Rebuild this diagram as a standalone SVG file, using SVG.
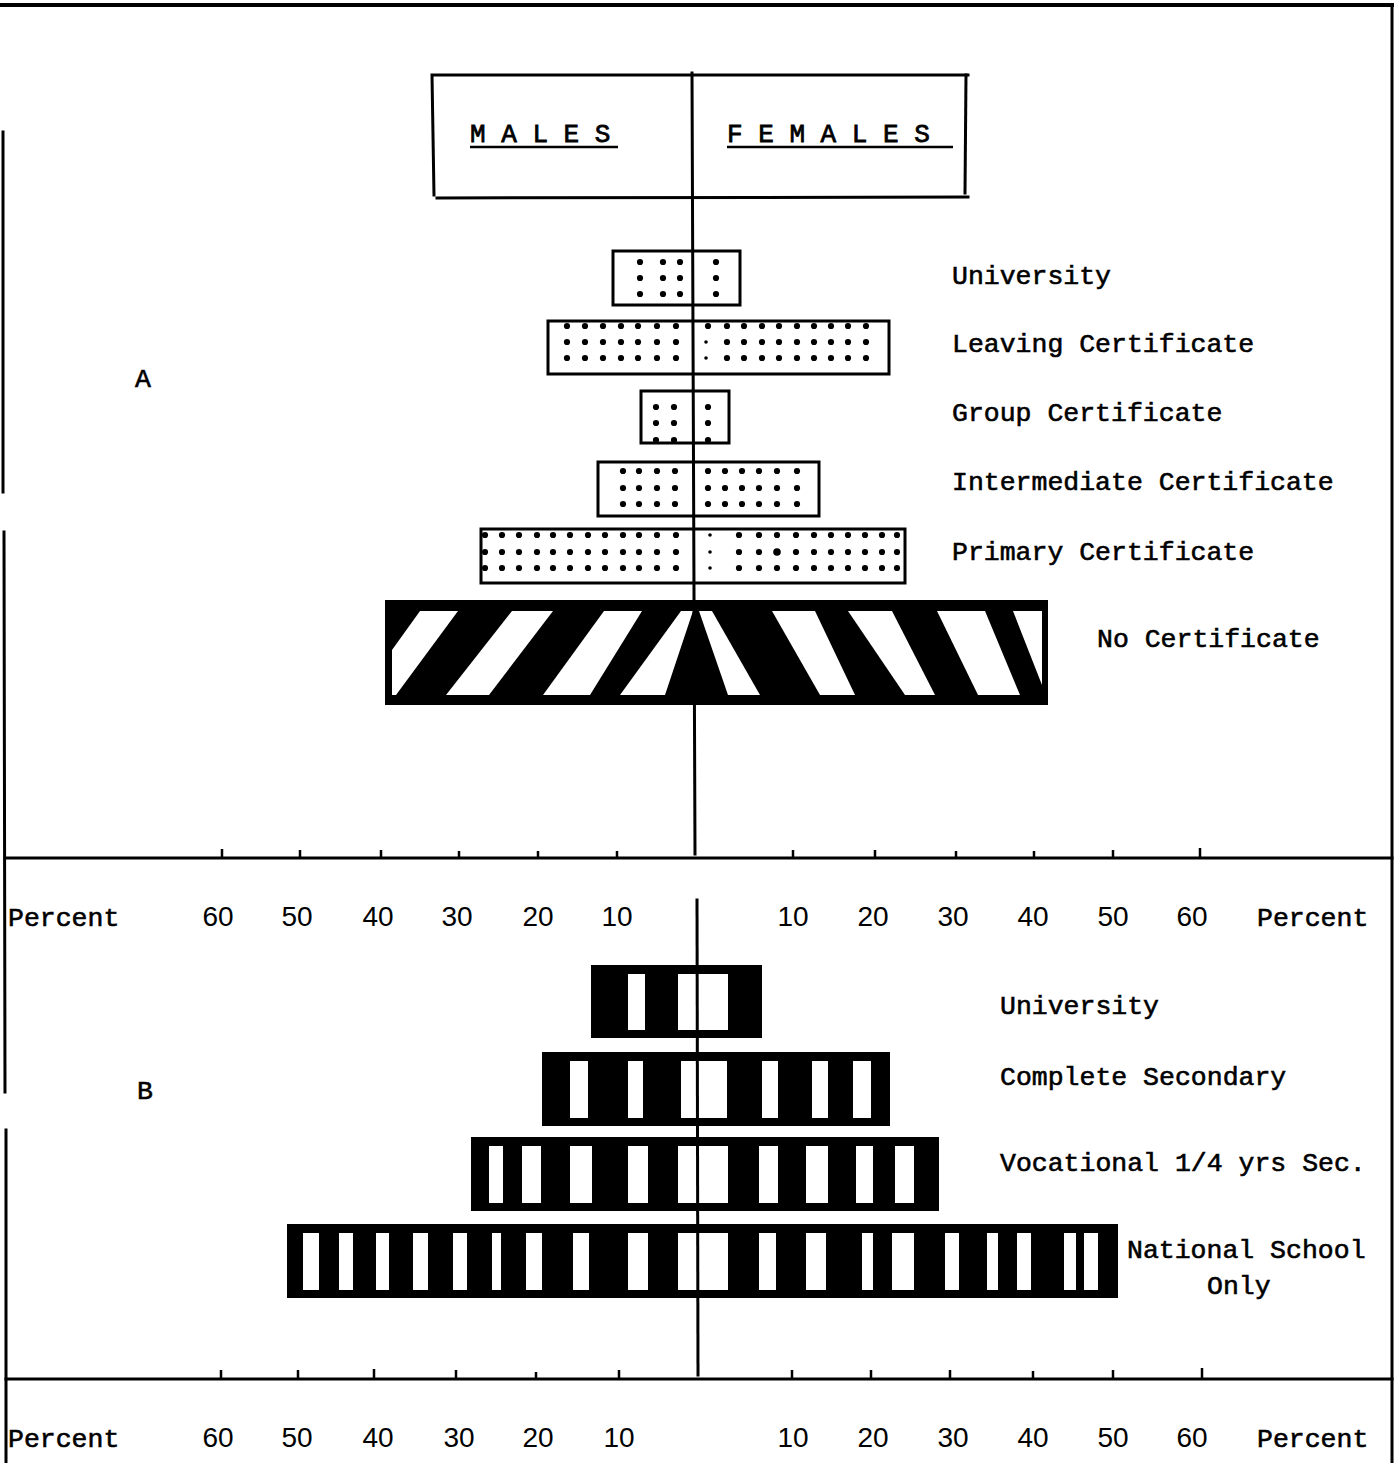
<svg xmlns="http://www.w3.org/2000/svg" width="1396" height="1463" viewBox="0 0 1396 1463">
<style>
.t{font-family:"Liberation Mono","DejaVu Sans Mono",monospace;font-size:26.5px;fill:#000;stroke:#000;stroke-width:0.6}
.h{font-family:"Liberation Mono","DejaVu Sans Mono",monospace;font-size:26px;fill:#000;stroke:#000;stroke-width:0.8}
.n{font-family:"Liberation Sans",Arial,sans-serif;font-size:28px;fill:#000;text-anchor:middle}
.ln{stroke:#000;stroke-width:3;fill:none;stroke-linecap:square}
.tk{stroke:#000;stroke-width:2.5}
.bar{fill:#fff;stroke:#000;stroke-width:3}
.blk{fill:#000;stroke:#000;stroke-width:2}
.w{fill:#fff}
.d circle{fill:#000}
</style>
<rect width="1396" height="1463" fill="#fff"/>

<g id="frame">
<line class="ln" x1="0" y1="5" x2="1392" y2="5" style="stroke-width:4"/>
<line class="ln" x1="1392" y1="5" x2="1392" y2="1463"/>
<line class="ln" x1="3" y1="132" x2="3" y2="492"/>
<line class="ln" x1="4" y1="532" x2="5" y2="1092"/>
<line class="ln" x1="6" y1="1130" x2="6" y2="1463"/>
</g>

<g id="header">
<polyline class="ln" points="434,195 432,75 968,75"/>
<line class="ln" x1="966" y1="75" x2="965" y2="193"/>
<line class="ln" x1="437" y1="198" x2="968" y2="197"/>
<text class="h" x="470" y="142">M A L E S</text>
<text class="h" x="727" y="142">F E M A L E S</text>
<line x1="470" y1="147" x2="618" y2="147" stroke="#000" stroke-width="2.5"/>
<line x1="727" y1="147" x2="953" y2="147" stroke="#000" stroke-width="2.5"/>
</g>

<g id="labelA"><text class="t" x="135" y="387">A</text></g>
<g id="labelB"><text class="t" x="137" y="1099">B</text></g>

<g id="a-university">
<rect class="bar" x="613" y="251" width="127" height="54"/>
<g class="d"><circle cx="640" cy="262" r="3.1"/><circle cx="663" cy="262" r="3.1"/><circle cx="680" cy="262" r="3.1"/><circle cx="716" cy="262" r="3.1"/>
<circle cx="640" cy="278" r="3.1"/><circle cx="663" cy="278" r="3.1"/><circle cx="680" cy="278" r="3.1"/><circle cx="716" cy="278" r="3.1"/>
<circle cx="640" cy="294" r="3.1"/><circle cx="663" cy="294" r="3.1"/><circle cx="680" cy="294" r="3.1"/><circle cx="716" cy="294" r="3.1"/></g>
<text class="t" x="952" y="284">University</text>
</g>

<g id="a-leaving">
<rect class="bar" x="548" y="321" width="341" height="53"/>
<g class="d">
<circle cx="567" cy="326" r="3.1"/><circle cx="585" cy="326" r="3.1"/><circle cx="603" cy="326" r="3.1"/><circle cx="621" cy="326" r="3.1"/><circle cx="638" cy="326" r="3.1"/><circle cx="657" cy="326" r="3.1"/><circle cx="676" cy="326" r="3.1"/>
<circle cx="708" cy="326" r="3.1"/><circle cx="727" cy="326" r="3.1"/><circle cx="744" cy="326" r="3.1"/><circle cx="762" cy="326" r="3.1"/><circle cx="779" cy="326" r="3.1"/><circle cx="797" cy="326" r="3.1"/><circle cx="814" cy="326" r="3.1"/><circle cx="831" cy="326" r="3.1"/><circle cx="848" cy="326" r="3.1"/><circle cx="866" cy="326" r="3.1"/>
<circle cx="567" cy="342" r="3.1"/><circle cx="585" cy="342" r="3.1"/><circle cx="603" cy="342" r="3.1"/><circle cx="621" cy="342" r="3.1"/><circle cx="638" cy="342" r="3.1"/><circle cx="657" cy="342" r="3.1"/><circle cx="676" cy="342" r="3.1"/>
<circle cx="706" cy="342" r="1.8"/><circle cx="727" cy="342" r="3.1"/><circle cx="744" cy="342" r="3.1"/><circle cx="762" cy="342" r="3.1"/><circle cx="779" cy="342" r="3.1"/><circle cx="797" cy="342" r="3.1"/><circle cx="814" cy="342" r="3.1"/><circle cx="831" cy="342" r="3.1"/><circle cx="848" cy="342" r="3.1"/><circle cx="866" cy="342" r="3.1"/>
<circle cx="567" cy="358" r="3.1"/><circle cx="585" cy="358" r="3.1"/><circle cx="603" cy="358" r="3.1"/><circle cx="621" cy="358" r="3.1"/><circle cx="638" cy="358" r="3.1"/><circle cx="657" cy="358" r="3.1"/><circle cx="676" cy="358" r="3.1"/>
<circle cx="706" cy="358" r="1.8"/><circle cx="727" cy="358" r="3.1"/><circle cx="744" cy="358" r="3.1"/><circle cx="762" cy="358" r="3.1"/><circle cx="779" cy="358" r="3.1"/><circle cx="797" cy="358" r="3.1"/><circle cx="814" cy="358" r="3.1"/><circle cx="831" cy="358" r="3.1"/><circle cx="848" cy="358" r="3.1"/><circle cx="866" cy="358" r="3.1"/>
</g>
<text class="t" x="952" y="352">Leaving Certificate</text>
</g>

<g id="a-group">
<rect class="bar" x="641" y="391" width="88" height="52"/>
<g class="d"><circle cx="656" cy="407" r="3.1"/><circle cx="674" cy="407" r="3.1"/><circle cx="708" cy="407" r="3.1"/>
<circle cx="656" cy="423" r="3.1"/><circle cx="674" cy="423" r="3.1"/><circle cx="708" cy="423" r="3.1"/>
<circle cx="656" cy="440" r="3.1"/><circle cx="674" cy="440" r="3.1"/><circle cx="708" cy="440" r="3.1"/></g>
<text class="t" x="952" y="421">Group Certificate</text>
</g>

<g id="a-intermediate">
<rect class="bar" x="598" y="462" width="221" height="54"/>
<g class="d">
<circle cx="623" cy="471" r="3.1"/><circle cx="639" cy="471" r="3.1"/><circle cx="657" cy="471" r="3.1"/><circle cx="675" cy="471" r="3.1"/><circle cx="708" cy="471" r="3.1"/><circle cx="725" cy="471" r="3.1"/><circle cx="742" cy="471" r="3.1"/><circle cx="759" cy="471" r="3.1"/><circle cx="777" cy="471" r="3.1"/><circle cx="797" cy="471" r="3.1"/>
<circle cx="623" cy="488" r="3.1"/><circle cx="639" cy="488" r="3.1"/><circle cx="657" cy="488" r="3.1"/><circle cx="675" cy="488" r="3.1"/><circle cx="708" cy="488" r="3.1"/><circle cx="725" cy="488" r="3.1"/><circle cx="742" cy="488" r="3.1"/><circle cx="759" cy="488" r="3.1"/><circle cx="777" cy="488" r="3.1"/><circle cx="797" cy="488" r="3.1"/>
<circle cx="623" cy="504" r="3.1"/><circle cx="639" cy="504" r="3.1"/><circle cx="657" cy="504" r="3.1"/><circle cx="675" cy="504" r="3.1"/><circle cx="708" cy="504" r="3.1"/><circle cx="725" cy="504" r="3.1"/><circle cx="742" cy="504" r="3.1"/><circle cx="759" cy="504" r="3.1"/><circle cx="777" cy="504" r="3.1"/><circle cx="797" cy="504" r="3.1"/>
</g>
<text class="t" x="952" y="490">Intermediate Certificate</text>
</g>

<g id="a-primary">
<rect class="bar" x="481" y="529" width="424" height="54"/>
<g class="d">
<circle cx="485" cy="535" r="3.1"/><circle cx="502" cy="535" r="3.1"/><circle cx="519" cy="535" r="3.1"/><circle cx="537" cy="535" r="3.1"/><circle cx="553" cy="535" r="3.1"/><circle cx="570" cy="535" r="3.1"/><circle cx="588" cy="535" r="3.1"/><circle cx="605" cy="535" r="3.1"/><circle cx="623" cy="535" r="3.1"/><circle cx="639" cy="535" r="3.1"/><circle cx="657" cy="535" r="3.1"/><circle cx="676" cy="535" r="3.1"/>
<circle cx="710" cy="535" r="1.8"/><circle cx="739" cy="535" r="3.1"/><circle cx="759" cy="535" r="3.1"/><circle cx="777" cy="535" r="3.1"/><circle cx="796" cy="535" r="3.1"/><circle cx="814" cy="535" r="3.1"/><circle cx="831" cy="535" r="3.1"/><circle cx="848" cy="535" r="3.1"/><circle cx="865" cy="535" r="3.1"/><circle cx="882" cy="535" r="3.1"/><circle cx="897" cy="535" r="3.1"/>
<circle cx="485" cy="552" r="3.1"/><circle cx="502" cy="552" r="3.1"/><circle cx="519" cy="552" r="3.1"/><circle cx="537" cy="552" r="3.1"/><circle cx="553" cy="552" r="3.1"/><circle cx="570" cy="552" r="3.1"/><circle cx="588" cy="552" r="3.1"/><circle cx="605" cy="552" r="3.1"/><circle cx="623" cy="552" r="3.1"/><circle cx="639" cy="552" r="3.1"/><circle cx="657" cy="552" r="3.1"/><circle cx="676" cy="552" r="3.1"/>
<circle cx="710" cy="552" r="1.8"/><circle cx="739" cy="552" r="3.1"/><circle cx="759" cy="552" r="3.1"/><circle cx="777" cy="552" r="3.8"/><circle cx="796" cy="552" r="3.1"/><circle cx="814" cy="552" r="3.1"/><circle cx="831" cy="552" r="3.1"/><circle cx="848" cy="552" r="3.1"/><circle cx="865" cy="552" r="3.1"/><circle cx="882" cy="552" r="3.1"/><circle cx="897" cy="552" r="3.1"/>
<circle cx="485" cy="568" r="3.1"/><circle cx="502" cy="568" r="3.1"/><circle cx="519" cy="568" r="3.1"/><circle cx="537" cy="568" r="3.1"/><circle cx="553" cy="568" r="3.1"/><circle cx="570" cy="568" r="3.1"/><circle cx="588" cy="568" r="3.1"/><circle cx="605" cy="568" r="3.1"/><circle cx="623" cy="568" r="3.1"/><circle cx="639" cy="568" r="3.1"/><circle cx="657" cy="568" r="3.1"/><circle cx="676" cy="568" r="3.1"/>
<circle cx="710" cy="568" r="1.8"/><circle cx="739" cy="568" r="3.1"/><circle cx="759" cy="568" r="3.1"/><circle cx="777" cy="568" r="3.1"/><circle cx="796" cy="568" r="3.1"/><circle cx="814" cy="568" r="3.1"/><circle cx="831" cy="568" r="3.1"/><circle cx="848" cy="568" r="3.1"/><circle cx="865" cy="568" r="3.1"/><circle cx="882" cy="568" r="3.1"/><circle cx="897" cy="568" r="3.1"/>
</g>
<text class="t" x="952" y="560">Primary Certificate</text>
</g>

<g id="a-none">
<rect class="blk" x="386" y="601" width="661" height="103"/>
<polygon class="w" points="420,611 458,611 396,695 392,695 392,650"/>
<polygon class="w" points="512,611 553,611 489,695 446,695"/>
<polygon class="w" points="604,611 642,611 590,695 543,695"/>
<polygon class="w" points="681,611 693,611 665,695 620,695"/>
<polygon class="w" points="699,611 712,611 760,695 728,695"/>
<polygon class="w" points="772,611 815,611 855,695 820,695"/>
<polygon class="w" points="848,611 892,611 935,695 905,695"/>
<polygon class="w" points="937,611 985,611 1020,695 978,695"/>
<polygon class="w" points="1013,611 1042,611 1042,685"/>
<text class="t" x="1097" y="647">No Certificate</text>
</g>

<g id="b-university">
<rect class="blk" x="592" y="966" width="169" height="71"/>
<g class="w"><rect x="628" y="974" width="17" height="56"/><rect x="678" y="974" width="50" height="56"/></g>
<text class="t" x="1000" y="1014">University</text>
</g>

<g id="b-complete">
<rect class="blk" x="543" y="1053" width="346" height="72"/>
<g class="w"><rect x="570" y="1061" width="18" height="57"/><rect x="628" y="1061" width="15" height="57"/><rect x="681" y="1061" width="46" height="57"/><rect x="762" y="1061" width="16" height="57"/><rect x="812" y="1061" width="16" height="57"/><rect x="853" y="1061" width="18" height="57"/></g>
<text class="t" x="1000" y="1085">Complete Secondary</text>
</g>

<g id="b-vocational">
<rect class="blk" x="472" y="1138" width="466" height="72"/>
<g class="w"><rect x="489" y="1146" width="14" height="57"/><rect x="522" y="1146" width="19" height="57"/><rect x="570" y="1146" width="22" height="57"/><rect x="628" y="1146" width="20" height="57"/><rect x="678" y="1146" width="50" height="57"/><rect x="759" y="1146" width="19" height="57"/><rect x="806" y="1146" width="22" height="57"/><rect x="856" y="1146" width="17" height="57"/><rect x="895" y="1146" width="19" height="57"/></g>
<text class="t" x="1000" y="1171">Vocational 1/4 yrs Sec.</text>
</g>

<g id="b-national">
<rect class="blk" x="288" y="1225" width="829" height="72"/>
<g class="w"><rect x="303" y="1233" width="16" height="57"/><rect x="339" y="1233" width="14" height="57"/><rect x="376" y="1233" width="13" height="57"/><rect x="413" y="1233" width="15" height="57"/><rect x="453" y="1233" width="14" height="57"/><rect x="492" y="1233" width="9" height="57"/><rect x="526" y="1233" width="16" height="57"/><rect x="573" y="1233" width="16" height="57"/><rect x="628" y="1233" width="20" height="57"/><rect x="678" y="1233" width="50" height="57"/><rect x="759" y="1233" width="17" height="57"/><rect x="806" y="1233" width="20" height="57"/><rect x="862" y="1233" width="11" height="57"/><rect x="892" y="1233" width="22" height="57"/><rect x="945" y="1233" width="14" height="57"/><rect x="987" y="1233" width="11" height="57"/><rect x="1017" y="1233" width="14" height="57"/><rect x="1064" y="1233" width="12" height="57"/><rect x="1084" y="1233" width="14" height="57"/></g>
<text class="t" x="1127" y="1258">National School</text>
<text class="t" x="1207" y="1294">Only</text>
</g>

<g id="connectors">
<line class="ln" x1="692" y1="73" x2="695" y2="854"/>
<line class="ln" x1="697" y1="900" x2="698" y2="1375"/>
<line class="ln" x1="5" y1="858" x2="1392" y2="858"/>
<line class="ln" x1="6" y1="1379" x2="1392" y2="1379"/>
<g class="tk">
<line x1="222" y1="849" x2="222" y2="858"/><line x1="300" y1="850" x2="300" y2="858"/><line x1="381" y1="850" x2="381" y2="858"/><line x1="459" y1="851" x2="459" y2="858"/><line x1="538" y1="851" x2="538" y2="858"/><line x1="617" y1="851" x2="617" y2="858"/>
<line x1="793" y1="850" x2="793" y2="858"/><line x1="875" y1="850" x2="875" y2="858"/><line x1="956" y1="851" x2="956" y2="858"/><line x1="1034" y1="851" x2="1034" y2="858"/><line x1="1113" y1="850" x2="1113" y2="858"/><line x1="1200" y1="848" x2="1200" y2="858"/>
<line x1="221" y1="1370" x2="221" y2="1379"/><line x1="298" y1="1370" x2="298" y2="1379"/><line x1="374" y1="1369" x2="374" y2="1379"/><line x1="456" y1="1370" x2="456" y2="1379"/><line x1="536" y1="1372" x2="536" y2="1379"/><line x1="619" y1="1370" x2="619" y2="1379"/>
<line x1="792" y1="1370" x2="792" y2="1379"/><line x1="871" y1="1370" x2="871" y2="1379"/><line x1="950" y1="1370" x2="950" y2="1379"/><line x1="1033" y1="1371" x2="1033" y2="1379"/><line x1="1113" y1="1370" x2="1113" y2="1379"/><line x1="1202" y1="1368" x2="1202" y2="1379"/>
</g>
</g>

<g id="axis-a-labels">
<text class="t" x="8" y="926">Percent</text>
<text class="n" x="218" y="926">60</text><text class="n" x="297" y="926">50</text><text class="n" x="378" y="926">40</text><text class="n" x="457" y="926">30</text><text class="n" x="538" y="926">20</text><text class="n" x="617" y="926">10</text>
<text class="n" x="793" y="926">10</text><text class="n" x="873" y="926">20</text><text class="n" x="953" y="926">30</text><text class="n" x="1033" y="926">40</text><text class="n" x="1113" y="926">50</text><text class="n" x="1192" y="926">60</text>
<text class="t" x="1257" y="926">Percent</text>
</g>

<g id="axis-b-labels">
<text class="t" x="8" y="1447">Percent</text>
<text class="n" x="218" y="1447">60</text><text class="n" x="297" y="1447">50</text><text class="n" x="378" y="1447">40</text><text class="n" x="459" y="1447">30</text><text class="n" x="538" y="1447">20</text><text class="n" x="619" y="1447">10</text>
<text class="n" x="793" y="1447">10</text><text class="n" x="873" y="1447">20</text><text class="n" x="953" y="1447">30</text><text class="n" x="1033" y="1447">40</text><text class="n" x="1113" y="1447">50</text><text class="n" x="1192" y="1447">60</text>
<text class="t" x="1257" y="1447">Percent</text>
</g>
</svg>
